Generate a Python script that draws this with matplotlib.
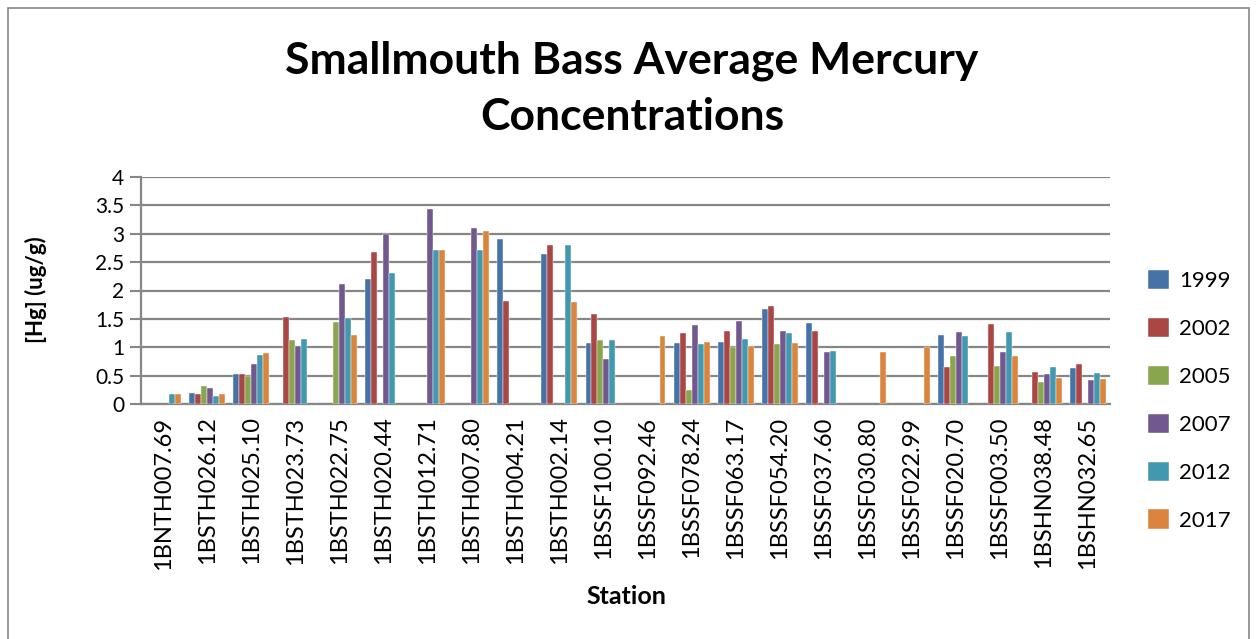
import numpy as np
import matplotlib
matplotlib.use("Agg")
import matplotlib.pyplot as plt
from matplotlib.patches import Rectangle

plt.rcParams["font.family"] = ["Lato", "DejaVu Sans"]

stations = ["1BNTH007.69", "1BSTH026.12", "1BSTH025.10", "1BSTH023.73", "1BSTH022.75",
            "1BSTH020.44", "1BSTH012.71", "1BSTH007.80", "1BSTH004.21", "1BSTH002.14",
            "1BSSF100.10", "1BSSF092.46", "1BSSF078.24", "1BSSF063.17", "1BSSF054.20",
            "1BSSF037.60", "1BSSF030.80", "1BSSF022.99", "1BSSF020.70", "1BSSF003.50",
            "1BSHN038.48", "1BSHN032.65"]
years = ["1999", "2002", "2005", "2007", "2012", "2017"]
nan = np.nan

hg_1999 = [nan, 0.20, 0.52, nan, nan, 2.20, nan, nan, 2.90, 2.65, 1.08, nan,
           1.07, 1.09, 1.67, 1.42, nan, nan, 1.21, nan, nan, 0.64]
hg_2002 = [nan, 0.17, 0.52, 1.54, nan, 2.67, nan, nan, 1.81, 2.80, 1.59, nan,
           1.25, 1.28, 1.73, 1.29, nan, nan, 0.65, 1.41, 0.57, 0.71]
hg_2005 = [nan, 0.32, 0.50, 1.12, 1.44, nan, nan, nan, nan, nan, 1.13, nan,
           0.25, 1.01, 1.06, nan, nan, nan, 0.85, 0.67, 0.38, nan]
hg_2007 = [nan, 0.29, 0.71, 1.02, 2.12, 3.00, 3.44, 3.11, nan, nan, 0.80, nan,
           1.40, 1.46, 1.29, 0.92, nan, nan, 1.27, 0.91, 0.53, 0.42]
hg_2012 = [0.17, 0.14, 0.87, 1.14, 1.52, 2.30, 2.71, 2.72, nan, 2.80, 1.13, nan,
           1.05, 1.14, 1.25, 0.94, nan, nan, 1.19, 1.26, 0.66, 0.55]
hg_2017 = [0.17, 0.18, 0.89, nan, 1.22, nan, 2.72, 3.04, nan, 1.80, nan, 1.19,
           1.10, 1.03, 1.08, nan, 0.91, 1.01, nan, 0.85, 0.46, 0.44]
series = [hg_1999, hg_2002, hg_2005, hg_2007, hg_2012, hg_2017]
colors = ["#4572A7", "#AA4643", "#89A54E", "#71588F", "#4198AF", "#DB843D"]

W, H = 1257, 639
fig = plt.figure(figsize=(W / 100, H / 100), dpi=100)
fig.patches.append(Rectangle((8 / W, -0.02), (1249 - 8) / W, 1 - 8 / H + 0.02,
                             transform=fig.transFigure, fill=False,
                             edgecolor="#888888", linewidth=1.2))

ax = fig.add_axes([141 / W, 1 - 404 / H, (1110 - 141) / W, (404 - 177) / H])
x = np.arange(len(stations))
w = 0.136
for j, (vals, c, yr) in enumerate(zip(series, colors, years)):
    ax.bar(x + (j - 2.5) * w, vals, w, color=c, label=yr, zorder=3,
           edgecolor="white", linewidth=0.3)

ax.set_xlim(-0.5, len(stations) - 0.5)
ax.set_ylim(0, 4)
ax.set_yticks(np.arange(0, 4.01, 0.5))
ax.set_yticklabels(["0", "0.5", "1", "1.5", "2", "2.5", "3", "3.5", "4"], fontsize=15)
ax.set_xticks(x)
ax.set_xticklabels(stations, rotation=90, fontsize=17)
ax.tick_params(axis="x", length=0, pad=9)
ax.tick_params(axis="y", length=8, width=1.5, color="#868686", pad=4)
ax.grid(axis="y", color="#868686", linewidth=1.6, zorder=0)
for s in ["top", "right"]:
    ax.spines[s].set_visible(False)
for s in ["left", "bottom"]:
    ax.spines[s].set_color("#868686")
    ax.spines[s].set_linewidth(1.6)

fig.text(632 / W, 1 - 89 / H, "Smallmouth Bass Average Mercury\nConcentrations",
         ha="center", va="center", fontsize=32, fontweight="bold", linespacing=1.5)
fig.text(36 / W, 1 - 290 / H, "[Hg] (ug/g)", rotation=90, ha="center", va="center",
         fontsize=16, fontweight="bold")
fig.text(626 / W, 1 - 596 / H, "Station", ha="center", va="center",
         fontsize=18, fontweight="bold")

leg = fig.legend(loc="upper left", bbox_to_anchor=(1128 / W, 1 - 250 / H),
                 frameon=False, fontsize=16, handlelength=0.95, handleheight=0.95,
                 labelspacing=1.2, handletextpad=0.45)

fig.savefig("out.png", dpi=100)
